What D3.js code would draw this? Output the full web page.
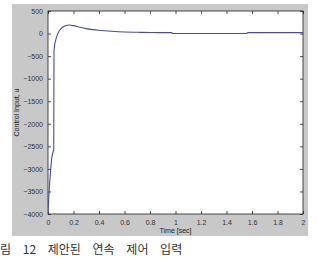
<!DOCTYPE html>
<html><head><meta charset="utf-8">
<script src="https://cdn.jsdelivr.net/npm/d3@7"></script>
<style>body{margin:0;background:#fff}svg{display:block}</style>
</head><body>
<script>
const timeSec = [0, 0.005, 0.01, 0.02, 0.03, 0.04, 0.045, 0.047, 0.05, 0.06, 0.07, 0.08, 0.1, 0.12, 0.15, 0.17, 0.2, 0.25, 0.3, 0.35, 0.4, 0.5, 0.6, 0.7, 0.8, 0.97, 0.975, 1.56, 1.565, 2.0];
const controlU = [-4000, -3700, -3450, -3050, -2750, -2620, -2560, -420, -300, -150, -50, 20, 100, 150, 185, 190, 175, 140, 110, 88, 72, 50, 35, 28, 22, 20, 0, 0, 20, 20];
const xTicks = [0, 0.2, 0.4, 0.6, 0.8, 1, 1.2, 1.4, 1.6, 1.8, 2];
const yTicks = [500, 0, -500, -1000, -1500, -2000, -2500, -3000, -3500, -4000];
const xLabel = "Time [sec]";
const yLabel = "Control Input, u";
const caption = "그림 12 제안된 연속 제어 입력";

const W = 317, H = 261;
const svg = d3.select("body").append("svg").attr("width", W).attr("height", H);
svg.append("rect").attr("x", 12).attr("y", 4).attr("width", 296).attr("height", 232).attr("fill", "#c8c8c8");

const L = 48, R = 303, T = 11, B = 214;
const x = d3.scaleLinear().domain([0, 2]).range([L, R]);
const y = d3.scaleLinear().domain([-4000, 500]).range([B, T]);

svg.append("rect").attr("x", L).attr("y", T).attr("width", R - L).attr("height", B - T).attr("fill", "#fff");

const font = "'Liberation Sans', Arial, sans-serif";
const styleAxis = g => {
  g.selectAll("path").remove();
  g.selectAll("line").attr("stroke", "#222").attr("stroke-width", 0.8);
  g.selectAll("text").attr("fill", "#333").style("font-family", font).style("font-size", "7px");
};
svg.append("g").attr("transform", `translate(0,${B})`)
  .call(d3.axisBottom(x).tickValues(xTicks).tickFormat(d3.format("")).tickSizeInner(-3).tickPadding(6))
  .call(styleAxis);
svg.append("g").attr("transform", `translate(0,${T})`)
  .call(d3.axisTop(x).tickValues(xTicks).tickFormat("").tickSizeInner(-3))
  .call(styleAxis);
svg.append("g").attr("transform", `translate(${L},0)`)
  .call(d3.axisLeft(y).tickValues(yTicks).tickFormat(d3.format("")).tickSizeInner(-3).tickPadding(5))
  .call(styleAxis);
svg.append("g").attr("transform", `translate(${R},0)`)
  .call(d3.axisRight(y).tickValues(yTicks).tickFormat("").tickSizeInner(-3))
  .call(styleAxis);

svg.append("rect").attr("x", L).attr("y", T).attr("width", R - L).attr("height", B - T)
  .attr("fill", "none").attr("stroke", "#222").attr("stroke-width", 0.8);

svg.append("clipPath").attr("id", "clip").append("rect").attr("x", L).attr("y", T).attr("width", R - L).attr("height", B - T);
const line = d3.line().x((d, i) => x(timeSec[i])).y(d => y(d)).curve(d3.curveMonotoneX);
svg.append("path").datum(controlU).attr("d", line).attr("clip-path", "url(#clip)")
  .attr("fill", "none").attr("stroke", "#4848b0").attr("stroke-width", 1.1);

svg.append("text").attr("x", (L + R) / 2).attr("y", 233).attr("text-anchor", "middle")
  .style("font-family", font).style("font-size", "7px").attr("fill", "#222").text(xLabel);
svg.append("text").attr("transform", `translate(19,${(T + B) / 2}) rotate(-90)`).attr("text-anchor", "middle")
  .style("font-family", font).style("font-size", "7px").attr("fill", "#222").text(yLabel);

svg.append("text").attr("x", -11).attr("y", 254)
  .style("font-family", "'Noto Sans CJK KR', sans-serif").style("font-size", "12px")
  .style("word-spacing", "9px").attr("fill", "#333").text(caption);
</script>
</body></html>
